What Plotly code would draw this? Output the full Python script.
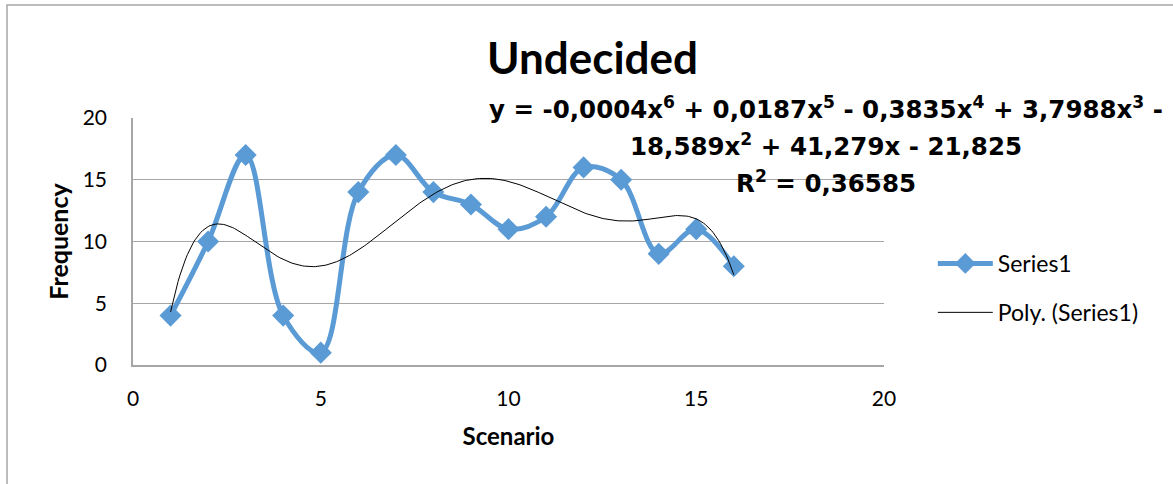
import numpy as np
import plotly.graph_objects as go

# Scenario numbers and observed frequencies
scenario = [1, 2, 3, 4, 5, 6, 7, 8, 9, 10, 11, 12, 13, 14, 15, 16]
frequency = [4, 10, 17, 4, 1, 14, 17, 14, 13, 11, 12, 16, 15, 9, 11, 8]

x_ticks = [0, 5, 10, 15, 20]
y_ticks = [0, 5, 10, 15, 20]

equation_lines = [
    "y = -0,0004x<sup>6</sup> + 0,0187x<sup>5</sup> - 0,3835x<sup>4</sup> + 3,7988x<sup>3</sup> -",
    "18,589x<sup>2</sup> + 41,279x - 21,825",
    "R<sup>2</sup> = 0,36585",
]

BLUE = "#5B9BD5"
GRID = "#A6A6A6"
FONT = "Lato, Open Sans, sans-serif"
EQ_FONT = "DejaVu Sans, Arial, sans-serif"

# 6th-order polynomial trendline fitted to the series
coef = np.polyfit(scenario, frequency, 6)
xt = np.linspace(min(scenario), max(scenario), 300)
yt = np.polyval(coef, xt)

fig = go.Figure()
fig.add_trace(go.Scatter(
    x=scenario, y=frequency, mode="lines+markers", name="Series1",
    line=dict(color=BLUE, width=5, shape="spline", smoothing=1),
    marker=dict(symbol="diamond", size=17, color=BLUE),
    legendgroup="a",
))
fig.add_trace(go.Scatter(
    x=xt, y=yt, mode="lines", name="Poly. (Series1)",
    line=dict(color="black", width=1),
    legendgroup="b",
))

fig.update_layout(
    width=1173, height=484,
    margin=dict(l=133, r=289, t=118, b=119),
    paper_bgcolor="white", plot_bgcolor="white",
    font=dict(family=FONT, size=21, color="black"),
    showlegend=True,
    legend=dict(
        x=1.065, y=(365 - 288) / 247, xanchor="left", yanchor="middle",
        font=dict(family=FONT, size=23, color="black"),
        tracegroupgap=16, itemwidth=55,
        bgcolor="rgba(0,0,0,0)",
    ),
    xaxis=dict(
        range=[0, 20], tickvals=x_ticks, showgrid=False,
        showline=True, linecolor=GRID, linewidth=1.5, zeroline=False,
        ticks="", tickfont=dict(size=21), ticklabelstandoff=14,
        title=dict(text="<b>Scenario</b>", font=dict(size=24), standoff=19),
    ),
    yaxis=dict(
        range=[0, 20], tickvals=y_ticks, showgrid=True, gridcolor=GRID,
        gridwidth=1.2, showline=True, linecolor=GRID, linewidth=1.5,
        zeroline=False, ticks="", tickfont=dict(size=21), ticklabelstandoff=20,
        title=dict(text="<b>Frequency</b>", font=dict(size=25), standoff=7),
    ),
    annotations=[
        dict(text="<b>Undecided</b>", xref="paper", yref="paper",
             x=(592 - 133) / 751, y=(365 - 57) / 247, xanchor="center",
             yanchor="middle", showarrow=False,
             font=dict(family=FONT, size=44, color="black")),
    ] + [
        dict(text=f"<b>{t}</b>", xref="paper", yref="paper",
             x=(826 - 133) / 751, y=(365 - py) / 247, xanchor="center",
             yanchor="middle", showarrow=False,
             font=dict(family=EQ_FONT, size=24.5, color="black"))
        for t, py in zip(equation_lines, [108, 145, 182])
    ],
    shapes=[
        dict(type="rect", xref="paper", yref="paper",
             x0=(7 - 133) / 751, x1=1.6, y0=-0.8, y1=(365 - 5) / 247,
             line=dict(color=GRID, width=1.5), fillcolor="rgba(0,0,0,0)",
             layer="below"),
    ],
)

fig.write_html("out.html")
